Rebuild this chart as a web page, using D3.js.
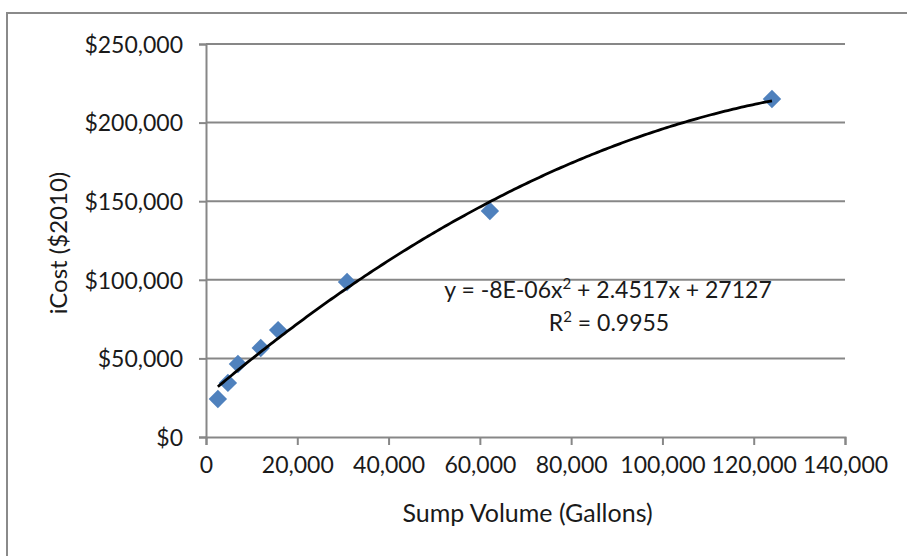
<!DOCTYPE html>
<html><head><meta charset="utf-8">
<script src="https://cdn.jsdelivr.net/npm/d3@7"></script>
<style>
body{margin:0;background:#fff;}
text{font-family:Lato,"Open Sans",sans-serif;fill:#1a1a1a;}
</style></head>
<body>
<svg id="chart" width="907" height="556"></svg>
<script>
// Data
const sumpVolume = [2600, 4800, 7000, 12000, 15800, 30900, 62200, 124000];
const iCost = [24200, 34400, 46400, 56600, 68000, 98600, 143800, 215000];
const xTicks = [0, 20000, 40000, 60000, 80000, 100000, 120000, 140000];
const yTicks = [0, 50000, 100000, 150000, 200000, 250000];
const xTitle = "Sump Volume (Gallons)";
const yTitle = "iCost ($2010)";
const eqLabel = ["y = -8E-06x", "2", " + 2.4517x + 27127"];
const r2Label = ["R", "2", " = 0.9955"];

const svg = d3.select("#chart");
const W = 907, H = 556;
const L = 206, R = 845, T = 44, B = 437;
const gridColor = "#878787";

// outer chart border
svg.append("rect").attr("x", 7).attr("y", 13).attr("width", W + 10).attr("height", H + 10)
  .attr("fill", "none").attr("stroke", "#8a8a8a").attr("stroke-width", 2);

const x = d3.scaleLinear().domain([0, 140000]).range([L, R]);
const y = d3.scaleLinear().domain([0, 250000]).range([B, T]);

// gridlines
svg.append("g").selectAll("line").data(yTicks.filter(d => d > 0)).join("line")
  .attr("x1", L).attr("x2", R).attr("y1", d => y(d)).attr("y2", d => y(d))
  .attr("stroke", gridColor).attr("stroke-width", 2);

const fmt = d3.format(",");
const xAxis = svg.append("g").attr("transform", `translate(0,${B})`)
  .call(d3.axisBottom(x).tickValues(xTicks).tickFormat(fmt).tickSizeOuter(0).tickSize(8).tickPadding(12));
const yAxis = svg.append("g").attr("transform", `translate(${L},0)`)
  .call(d3.axisLeft(y).tickValues(yTicks).tickFormat(d => "$" + fmt(d)).tickSizeOuter(0).tickSize(7).tickPadding(16));
[xAxis, yAxis].forEach(g => {
  g.select(".domain").attr("stroke", gridColor).attr("stroke-width", 2);
  g.selectAll(".tick line").attr("stroke", gridColor).attr("stroke-width", 2);
  g.selectAll(".tick text").attr("font-size", 23).attr("fill", "#1a1a1a")
    .style("font-family", "Lato, 'Open Sans', sans-serif");
});
yAxis.selectAll(".tick text").attr("dy", "0.36em");

// axis titles
svg.append("text").attr("x", (L + R) / 2 + 2).attr("y", 522).attr("text-anchor", "middle")
  .attr("font-size", 25).text(xTitle);
svg.append("text").attr("transform", "translate(67,243) rotate(-90)").attr("text-anchor", "middle")
  .attr("font-size", 24).text(yTitle);

// least-squares quadratic trendline fitted from the data
function quadFit(xs, ys) {
  const n = xs.length;
  let S = [0,0,0,0,0], Sy = [0,0,0];
  for (let i = 0; i < n; i++) {
    const xi = xs[i], yi = ys[i];
    for (let k = 0; k < 5; k++) S[k] += Math.pow(xi, k);
    for (let k = 0; k < 3; k++) Sy[k] += yi * Math.pow(xi, k);
  }
  const A = [[S[0],S[1],S[2],Sy[0]],[S[1],S[2],S[3],Sy[1]],[S[2],S[3],S[4],Sy[2]]];
  for (let i = 0; i < 3; i++) {
    for (let j = i + 1; j < 3; j++) {
      const f = A[j][i] / A[i][i];
      for (let k = i; k < 4; k++) A[j][k] -= f * A[i][k];
    }
  }
  const c = [0,0,0];
  for (let i = 2; i >= 0; i--) {
    let s = A[i][3];
    for (let k = i + 1; k < 3; k++) s -= A[i][k] * c[k];
    c[i] = s / A[i][i];
  }
  return c;
}
const coef = quadFit(sumpVolume, iCost);
const x0 = d3.min(sumpVolume), x1 = d3.max(sumpVolume);
const trend = d3.range(0, 201).map(i => {
  const xv = x0 + (x1 - x0) * i / 200;
  return [xv, coef[0] + coef[1] * xv + coef[2] * xv * xv];
});

// markers (diamonds)
const pts = sumpVolume.map((v, i) => [v, iCost[i]]);
svg.append("g").selectAll("rect").data(pts).join("rect")
  .attr("x", -6.5).attr("y", -6.5).attr("width", 13).attr("height", 13)
  .attr("transform", d => `translate(${x(d[0])},${y(d[1])}) rotate(45)`)
  .attr("fill", "#4f81bd");

svg.append("path").datum(trend)
  .attr("d", d3.line().x(d => x(d[0])).y(d => y(d[1])))
  .attr("fill", "none").attr("stroke", "#000").attr("stroke-width", 2.8);

// equation labels
function supText(parts, cx, by) {
  const t = svg.append("text").attr("x", cx).attr("y", by).attr("text-anchor", "middle").attr("font-size", 23);
  t.append("tspan").text(parts[0]);
  t.append("tspan").attr("font-size", 15).attr("dy", -9).text(parts[1]);
  t.append("tspan").attr("dy", 9).text(parts[2]);
}
supText(eqLabel, 608, 298);
supText(r2Label, 609, 331);
</script>
</body></html>
